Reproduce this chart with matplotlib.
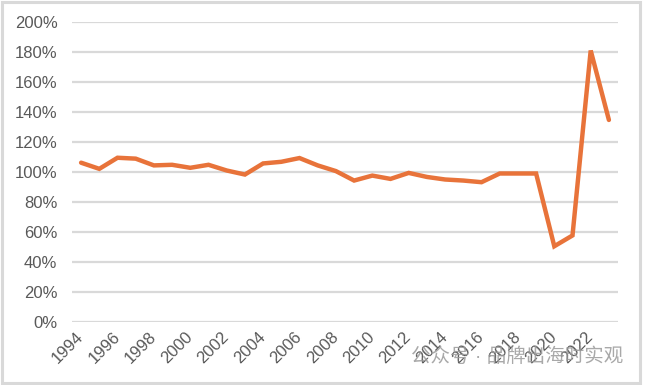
import numpy as np
import matplotlib
matplotlib.use('Agg')
import matplotlib.pyplot as plt
from matplotlib.patches import Rectangle
from matplotlib.ticker import FuncFormatter

# data
years = list(range(1994, 2024))
ratio = [106.2, 102.1, 109.5, 108.9, 104.4, 104.8, 102.8, 104.8, 101.0, 98.3,
         105.7, 106.8, 109.3, 104.4, 100.6, 94.3, 97.6, 95.4, 99.4, 96.7,
         95.0, 94.3, 93.2, 99.0, 99.0, 99.0, 50.5, 57.7, 181.0, 134.7]
y_ticks = [0, 20, 40, 60, 80, 100, 120, 140, 160, 180, 200]
watermark = '公众号 · 品牌出海时实观'

plt.rcParams['font.family'] = ['Liberation Sans', 'Noto Sans CJK SC', 'DejaVu Sans']

fig = plt.figure(figsize=(6.45, 3.85), dpi=100)
ax = fig.add_axes([72/645, 1-322/385, (618-72)/645, 300/385])

x = np.arange(len(years))
ax.plot(x, ratio, color='#E8733A', lw=3.2, solid_joinstyle='miter',
        solid_capstyle='round', zorder=3)

ax.set_xlim(-0.5, len(years)-0.5)
ax.set_ylim(0, 200)
ax.set_yticks(y_ticks)
ax.yaxis.set_major_formatter(FuncFormatter(lambda v, p: f'{v:.0f}%'))
ax.set_xticks(x[::2])
ax.set_xticklabels([str(y) for y in years[::2]], rotation=45, ha='right',
                   va='center', rotation_mode='anchor')

ax.grid(axis='y', color='#D9D9D9', lw=1.6)
ax.set_axisbelow(True)
for s in ax.spines.values():
    s.set_visible(False)
ax.tick_params(axis='both', length=0, labelsize=12, colors='#595959')
ax.tick_params(axis='y', pad=10.5)
ax.tick_params(axis='x', pad=9)

# outer frame
fig.patches.append(Rectangle((0.003, 0.005), 0.990, 0.99, transform=fig.transFigure,
                             fill=False, ec='#D9D9D9', lw=2.2))

fig.text(623/645, 1-357/385, watermark, ha='right', va='center', fontsize=14,
         color='#9A9A9A', alpha=0.85)

fig.savefig('out.png', dpi=100)
